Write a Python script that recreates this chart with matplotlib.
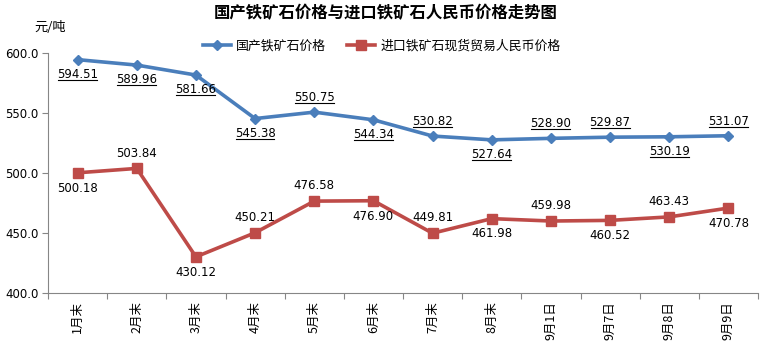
import matplotlib.pyplot as plt
from matplotlib.lines import Line2D

plt.rcParams['font.family'] = ['DejaVu Sans', 'Noto Sans CJK SC']

periods = ["1月末", "2月末", "3月末", "4月末", "5月末", "6月末", "7月末", "8月末",
           "9月1日", "9月7日", "9月8日", "9月9日"]
domestic = [594.51, 589.96, 581.66, 545.38, 550.75, 544.34, 530.82, 527.64,
            528.90, 529.87, 530.19, 531.07]
imported = [500.18, 503.84, 430.12, 450.21, 476.58, 476.90, 449.81, 461.98,
            459.98, 460.52, 463.43, 470.78]
# label placement: 1 = above the point, -1 = below
domestic_side = [-1, -1, -1, -1, 1, -1, 1, -1, 1, 1, -1, 1]
imported_side = [-1, 1, -1, 1, 1, -1, 1, -1, 1, -1, 1, -1]

blue = '#4A7EBB'
red = '#BE4B48'
cjk = ['Noto Sans CJK SC', 'DejaVu Sans']

fig = plt.figure(figsize=(7.68, 3.49), dpi=100)
ax = fig.add_axes([0.0625, 0.1605, 0.9245, 0.6875])

x = list(range(len(periods)))
ax.plot(x, domestic, color=blue, lw=2.6, marker='D', ms=5.5,
        label='国产铁矿石价格')
ax.plot(x, imported, color=red, lw=2.6, marker='s', ms=7,
        label='进口铁矿石现货贸易人民币价格')

ax.set_xlim(-0.5, len(periods) - 0.5)
ax.set_ylim(400, 600)
ax.set_yticks([400, 450, 500, 550, 600])
ax.set_yticklabels(['%.1f' % v for v in [400, 450, 500, 550, 600]], fontsize=8.5)

ax.set_xticks([i + 0.5 for i in range(-1, len(periods))])
ax.set_xticklabels([])
ax.set_xticks(x, minor=True)
ax.set_xticklabels(periods, minor=True, rotation=90, family=cjk, fontsize=9)
ax.tick_params(axis='x', which='minor', length=0, pad=6)
ax.tick_params(axis='x', which='major', length=4, color='#868686')
ax.tick_params(axis='y', length=4, color='#868686', pad=3)

for s in ['top', 'right']:
    ax.spines[s].set_visible(False)
for s in ['left', 'bottom']:
    ax.spines[s].set_color('#868686')

dom_texts = []
for i, (v, s) in enumerate(zip(domestic, domestic_side)):
    t = ax.annotate('%.2f' % v, (i, v), xytext=(0, 10.5 * s), textcoords='offset points',
                    ha='center', va='center', fontsize=8.5)
    dom_texts.append(t)
for i, (v, s) in enumerate(zip(imported, imported_side)):
    ax.annotate('%.2f' % v, (i, v), xytext=(0, 11 * s), textcoords='offset points',
                ha='center', va='center', fontsize=8.5)

fig.text(0.502, 0.962, '国产铁矿石价格与进口铁矿石人民币价格走势图', ha='center', va='center',
         fontsize=11.8, fontweight='bold', family=cjk)
fig.text(0.045, 0.92, '元/吨', ha='left', va='center', fontsize=9.5, family=cjk)

leg = fig.legend(loc='center', bbox_to_anchor=(0.497, 0.867), ncol=2, frameon=False,
                 prop={'family': cjk, 'size': 9.3}, handlelength=2.2, columnspacing=1.6,
                 handletextpad=0.4)

# underline the domestic price labels
fig.canvas.draw()
renderer = fig.canvas.get_renderer()
inv = fig.transFigure.inverted()
for t in dom_texts:
    bb = t.get_window_extent(renderer)
    (x0, y0), (x1, _) = inv.transform([[bb.x0 + 1, bb.y0 + 1], [bb.x1 - 1, bb.y0 + 1]])
    fig.add_artist(Line2D([x0, x1], [y0, y0], transform=fig.transFigure,
                          color='black', lw=0.8))

fig.savefig('out.png', dpi=100)
